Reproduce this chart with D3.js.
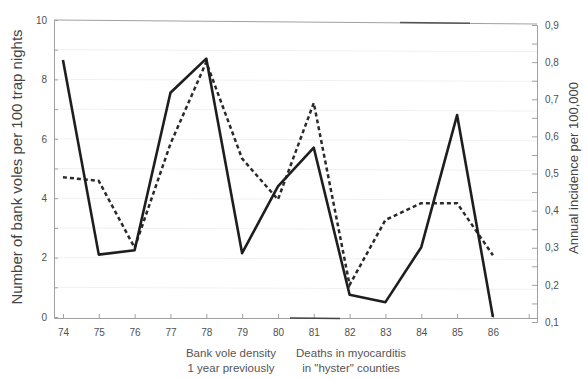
<!DOCTYPE html>
<html>
<head>
<meta charset="utf-8">
<script src="https://cdn.jsdelivr.net/npm/d3@7"></script>
<style>
  body { margin: 0; background: #fff; }
  svg { display: block; font-family: "Liberation Sans", Arial, sans-serif; }
</style>
</head>
<body>
<div class="result"></div>
<script>
// Data
const years = [74, 75, 76, 77, 78, 79, 80, 81, 82, 83, 84, 85, 86];
const voleDensity = [8.65, 2.1, 2.25, 7.55, 8.7, 2.15, 4.4, 5.7, 0.75, 0.5, 2.35, 6.8, 0];
const deathRate = [0.49, 0.48, 0.30, 0.58, 0.80, 0.54, 0.43, 0.69, 0.20, 0.375, 0.42, 0.42, 0.28];
const leftTicks = [0, 2, 4, 6, 8, 10];
const rightTicks = [0.1, 0.2, 0.3, 0.4, 0.5, 0.6, 0.7, 0.8, 0.9];
const legendVoles = ['Bank vole density', '1 year previously'];
const legendDeaths = ['Deaths in myocarditis', 'in "hyster" counties'];

// Width and height
const w = 583;
const h = 379;
const left = 54;
const right = 537;

// Scales
const xScale = d3.scaleLinear()
  .domain([73.75, 87.23])
  .range([left, right]);

const yLeft = d3.scaleLinear()
  .domain([0, 10])
  .range([317, 20]);

const yRight = d3.scaleLinear()
  .domain([0.1, 0.9])
  .range([322, 25]);

// SVG
const svg = d3.select('.result')
  .append('svg')
  .attr('width', w)
  .attr('height', h);

// Faint scan grid
svg.append('g')
  .selectAll('line')
  .data(d3.range(1, 10))
  .enter()
  .append('line')
  .attr('x1', left)
  .attr('x2', right)
  .attr('y1', d => yLeft(d))
  .attr('y2', d => yLeft(d) + 2)
  .attr('stroke', '#f1f1f1')
  .attr('stroke-width', 1);

// Axes
const axisColor = '#a0a0a0';

const xAxis = d3.axisBottom(xScale)
  .tickValues(d3.range(74, 88))
  .tickSize(-4)
  .tickFormat(d => d <= 86 ? d : '');

const yAxisLeft = d3.axisLeft(yLeft)
  .tickValues(d3.range(0, 11))
  .tickSize(-4)
  .tickFormat(d => leftTicks.includes(d) ? d : '');

const yAxisRight = d3.axisRight(yRight)
  .tickValues(d3.range(0.1, 0.91, 0.05).map(d => +d.toFixed(2)))
  .tickSize(-5)
  .tickFormat(d => rightTicks.includes(d) ? d3.format('.1f')(d).replace('.', ',') : '');

function styleAxis(g) {
  g.select('.domain').attr('stroke', axisColor);
  g.selectAll('.tick line').attr('stroke', axisColor);
  g.selectAll('.tick text').attr('fill', '#505050').attr('font-size', 10);
}

svg.append('g')
  .attr('transform', 'translate(0,318)')
  .call(xAxis)
  .call(styleAxis)
  .call(g => g.selectAll('.tick text').attr('dy', '1.45em'));

svg.append('g')
  .attr('transform', 'translate(' + left + ',0)')
  .call(yAxisLeft)
  .call(styleAxis)
  .call(g => g.selectAll('.tick text').attr('x', -7));

svg.append('g')
  .attr('transform', 'translate(' + right + ',0)')
  .call(yAxisRight)
  .call(styleAxis)
  .call(g => g.selectAll('.tick text').attr('x', 8));

// Top frame line
svg.append('line')
  .attr('x1', left).attr('y1', 20)
  .attr('x2', right).attr('y2', 24)
  .attr('stroke', axisColor);
svg.append('line')
  .attr('x1', 400).attr('y1', 22.5)
  .attr('x2', 470).attr('y2', 23.2)
  .attr('stroke', '#555')
  .attr('stroke-width', 1.5);
svg.append('line')
  .attr('x1', 290).attr('y1', 318)
  .attr('x2', 340).attr('y2', 318.5)
  .attr('stroke', '#444')
  .attr('stroke-width', 1.5);

// Lines
const voleLine = d3.line()
  .x((d, i) => xScale(years[i]))
  .y(d => yLeft(d));

const deathLine = d3.line()
  .x((d, i) => xScale(years[i]))
  .y(d => yRight(d));

svg.append('path')
  .datum(deathRate)
  .attr('d', deathLine)
  .attr('fill', 'none')
  .attr('stroke', '#2a2a2a')
  .attr('stroke-width', 2.5)
  .attr('stroke-dasharray', '4,3');

svg.append('path')
  .datum(voleDensity)
  .attr('d', voleLine)
  .attr('fill', 'none')
  .attr('stroke', '#1e1e1e')
  .attr('stroke-width', 2.6)
  .attr('stroke-linejoin', 'round');

// Axis titles
svg.append('text')
  .attr('transform', 'translate(22,167) rotate(-90)')
  .attr('text-anchor', 'middle')
  .attr('font-size', 15)
  .attr('fill', '#444')
  .text('Number of bank voles per 100 trap nights');

svg.append('text')
  .attr('transform', 'translate(578,168) rotate(-90)')
  .attr('text-anchor', 'middle')
  .attr('font-size', 13)
  .attr('fill', '#444')
  .text('Annual incidence per 100,000');

// Legend texts
svg.append('g')
  .selectAll('text')
  .data(legendVoles)
  .enter()
  .append('text')
  .attr('x', 231)
  .attr('y', (d, i) => 357 + i * 15)
  .attr('text-anchor', 'middle')
  .attr('font-size', 11.5)
  .attr('fill', '#555')
  .text(d => d);

svg.append('g')
  .selectAll('text')
  .data(legendDeaths)
  .enter()
  .append('text')
  .attr('x', 351)
  .attr('y', (d, i) => 357 + i * 15)
  .attr('text-anchor', 'middle')
  .attr('font-size', 11.5)
  .attr('fill', '#555')
  .text(d => d);
</script>
</body>
</html>
